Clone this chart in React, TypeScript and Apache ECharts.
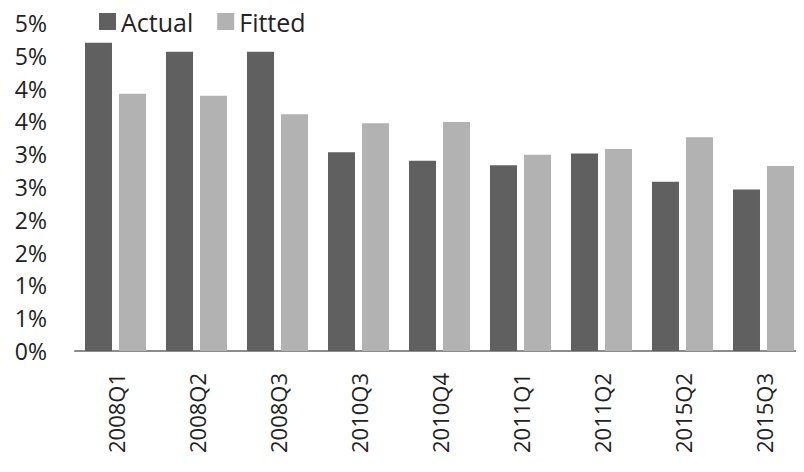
import React, { useEffect, useRef } from "react";
import * as echarts from "echarts";

const categories = ["2008Q1", "2008Q2", "2008Q3", "2010Q3", "2010Q4", "2011Q1", "2011Q2", "2015Q2", "2015Q3"];
const actual = [4.70, 4.56, 4.56, 3.03, 2.90, 2.83, 3.01, 2.58, 2.46];
const fitted = [3.92, 3.89, 3.61, 3.47, 3.49, 2.99, 3.08, 3.26, 2.82];

const FONT = "'Open Sans', 'Noto Sans', sans-serif";

export default function App() {
  const ref = useRef<HTMLDivElement>(null);
  useEffect(() => {
    if (!ref.current) return;
    const chart = echarts.init(ref.current, undefined, { renderer: "svg" });
    chart.setOption({
      animation: false,
      textStyle: { fontFamily: FONT },
      legend: {
        left: 94,
        top: 4,
        itemWidth: 17,
        itemHeight: 17,
        itemGap: 24,
        icon: "rect",
        textStyle: { fontSize: 25, color: "#222", fontFamily: FONT },
        data: ["Actual", "Fitted"],
      },
      grid: { left: 75, right: -9, top: 23, bottom: 121, containLabel: false },
      xAxis: {
        type: "category",
        data: categories,
        axisLine: { lineStyle: { color: "#8c8c8c", width: 2 } },
        axisTick: { show: false },
        axisLabel: { rotate: 90, fontSize: 22, color: "#222", margin: 22, fontFamily: FONT, interval: 0 },
      },
      yAxis: {
        type: "value",
        min: 0,
        max: 5,
        interval: 0.5,
        axisLine: { show: false },
        axisTick: { show: false },
        splitLine: { show: false },
        axisLabel: {
          fontSize: 23,
          color: "#222",
          margin: 28,
          fontFamily: FONT,
          formatter: (v: number) => Math.round(v) + "%",
        },
      },
      series: [
        {
          name: "Actual",
          type: "bar",
          data: actual,
          barWidth: 27,
          barGap: "26%",
          itemStyle: { color: "#606060" },
        },
        {
          name: "Fitted",
          type: "bar",
          data: fitted,
          barWidth: 27,
          itemStyle: { color: "#b2b2b2" },
        },
      ],
    });
    return () => chart.dispose();
  }, []);
  return <div ref={ref} style={{ width: 804, height: 472, margin: -8 }} />;
}
